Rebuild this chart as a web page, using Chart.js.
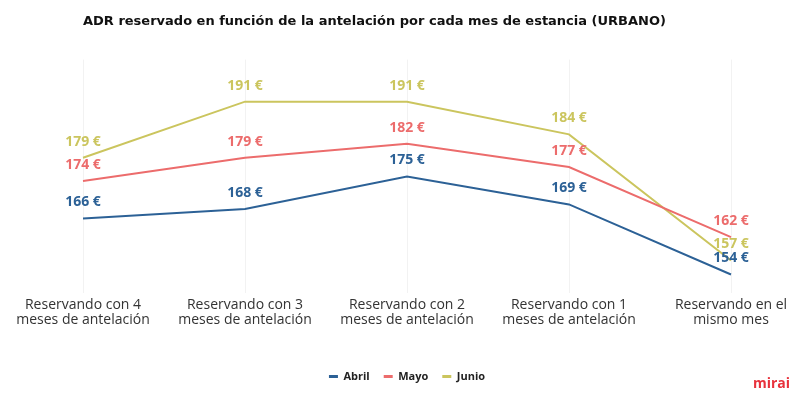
<!doctype html>
<html lang="es">
<head>
<meta charset="UTF-8"/>
<title>ADR reservado</title>
<script src="https://cdn.jsdelivr.net/npm/chart.js@4/dist/chart.umd.min.js"></script>
<style>
  html, body { margin: 0; padding: 0; background: #fff; }
  #wrap { position: relative; width: 800px; height: 402px; }
</style>
</head>
<body>
<div id="wrap"><canvas id="adrChart" width="800" height="402"></canvas></div>
<script>
    const categories = [
        ['Reservando con 4', 'meses de antelación'],
        ['Reservando con 3', 'meses de antelación'],
        ['Reservando con 2', 'meses de antelación'],
        ['Reservando con 1', 'meses de antelación'],
        ['Reservando en el', 'mismo mes']
    ];
    const abril = [166, 168, 175, 169, 154];
    const mayo = [174, 179, 182, 177, 162];
    const junio = [179, 191, 191, 184, 157];

    const colors = {abril: '#2c6196', mayo: '#ec6c6c', junio: '#cbc55e'};

    // draws the "xxx €" value above every point
    const valueLabels = {
        id: 'valueLabels',
        afterDatasetsDraw(chart) {
            const ctx = chart.ctx;
            ctx.save();
            ctx.font = 'bold 14px "Open Sans", sans-serif';
            ctx.textAlign = 'center';
            ctx.textBaseline = 'middle';
            chart.data.datasets.forEach((ds, i) => {
                const meta = chart.getDatasetMeta(i);
                ctx.fillStyle = ds.borderColor;
                meta.data.forEach((pt, j) => {
                    ctx.fillText(`${ds.data[j]} €`, pt.x, pt.y - 16);
                });
            });
            ctx.restore();
        }
    };

    const logo = {
        id: 'logo',
        afterDraw(chart) {
            const ctx = chart.ctx;
            ctx.save();
            ctx.font = 'bold 14px "Open Sans", sans-serif';
            ctx.fillStyle = '#e8323c';
            ctx.textAlign = 'right';
            ctx.textBaseline = 'middle';
            ctx.fillText('mirai', 790, 384);
            ctx.restore();
        }
    };

    new Chart(document.getElementById('adrChart').getContext('2d'), {
        type: 'line',
        data: {
            labels: categories,
            datasets: [
                {label: 'Abril', data: abril, borderColor: colors.abril, backgroundColor: colors.abril},
                {label: 'Mayo', data: mayo, borderColor: colors.mayo, backgroundColor: colors.mayo},
                {label: 'Junio', data: junio, borderColor: colors.junio, backgroundColor: colors.junio}
            ]
        },
        plugins: [valueLabels, logo],
        options: {
            responsive: false,
            animation: false,
            elements: {
                line: {borderWidth: 2, tension: 0},
                point: {radius: 0}
            },
            layout: {padding: {left: 83, right: 69, top: 0, bottom: 10}},
            plugins: {
                title: {
                    display: true,
                    align: 'start',
                    text: 'ADR reservado en función de la antelación por cada mes de estancia (URBANO)',
                    color: '#111',
                    font: {family: 'DejaVu Sans', size: 13, weight: 'bold'},
                    padding: {top: 14, bottom: 30}
                },
                legend: {
                    position: 'bottom',
                    labels: {
                        usePointStyle: true,
                        pointStyle: 'line',
                        pointStyleWidth: 9,
                        boxWidth: 8,
                        color: '#222',
                        font: {family: 'Open Sans', size: 11, weight: 'bold'},
                        padding: 14,
                        generateLabels(chart) {
                            const items = Chart.defaults.plugins.legend.labels.generateLabels(chart);
                            items.forEach(it => { it.lineWidth = 3; });
                            return items;
                        }
                    }
                },
                tooltip: {enabled: false}
            },
            scales: {
                x: {
                    offset: false,
                    border: {display: false},
                    grid: {color: 'rgba(0,0,0,0.05)', drawTicks: false},
                    ticks: {
                        color: '#333',
                        font: {family: 'Open Sans', size: 14, lineHeight: 1.1},
                        padding: 4,
                        maxRotation: 0,
                        autoSkip: false
                    },
                    afterFit(scale) {
                        scale.height += 25;
                    }
                },
                y: {
                    display: false,
                    min: 150,
                    max: 200
                }
            }
        }
    });
</script>
</body>
</html>
